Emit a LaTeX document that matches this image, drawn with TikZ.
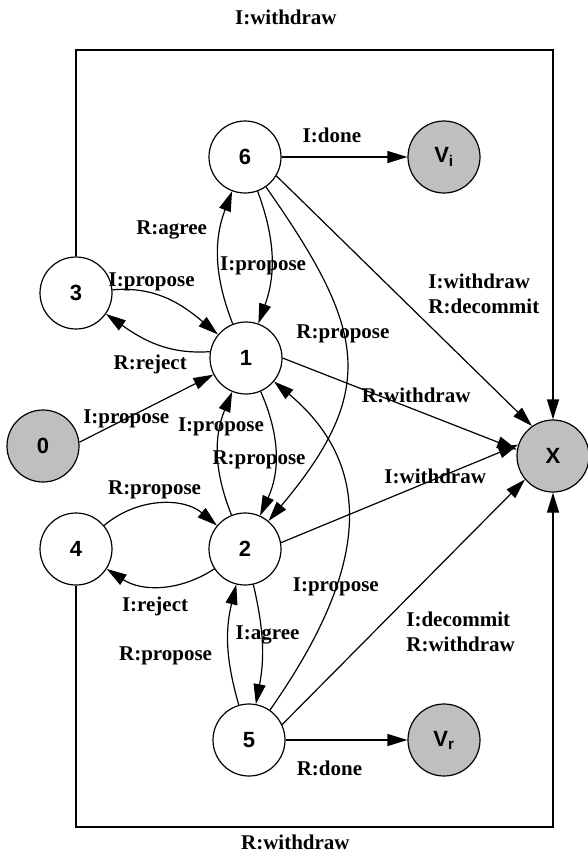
\documentclass[tikz,border=0pt]{standalone}
\usepackage{fontspec}
\setmainfont{Liberation Serif}
\setsansfont{Liberation Sans}
\usepackage{tikz}
\usetikzlibrary{automata, positioning, arrows.meta}
\tikzset{
->, % makes the edges directed
>={Triangle[length=20pt, width=12pt]}, % big filled arrow heads
every node/.style={font=\bfseries\fontsize{21}{25}\selectfont}, % the edge labels
every state/.style={line width=1.2pt, minimum size=72pt, inner sep=0pt, font=\sffamily\bfseries\fontsize{22}{26}\selectfont}, % the circles
sink/.style={fill=gray!50}, % the shaded end states
}

\begin{document}
\begin{tikzpicture}[x=1pt, y=1pt, line width=1.2pt, on grid]
    \useasboundingbox (0,0) rectangle (588,-855);
    \node[state] (q6) at (245,-157) {6};
    \node[state, sink, right=199pt of q6] (qVi) {V\textsubscript{i}};
    \node[state] (q3) at (76,-293) {3};
    \node[state] (q1) at (246,-358) {1};
    \node[state, sink] (q0) at (43,-446) {0};
    \node[state, sink] (qX) at (553,-456) {X};
    \node[state] (q4) at (76,-549) {4};
    \node[state, right=169pt of q4] (q2) {2};
    \node[state] (q5) at (249,-740) {5};
    \node[state, sink, right=195pt of q5] (qVr) {V\textsubscript{r}};
    \coordinate (cTop) at (553,-50);
    \coordinate (cBot) at (553,-827);

    \path
    (q6) edge node[pos=0.4, above=10pt] (lDone) {I:done} (qVi)
    (q6) edge[bend left=20] node[pos=0.57, xshift=-8pt] (lPropA) {I:propose} (q1)
    (q1) edge[bend left=21] node[pos=0.72, left=10pt] (lAgree) {R:agree} (q6)
    (q3) edge[out=5, in=140] node[pos=0.33, above=-2pt] (lPropB) {I:propose} (q1)
    (q1.170) edge[out=184, in=-35] node[pos=0.55, below=10pt] (lReject) {R:reject} (q3)
    (q0.6) edge node[pos=0.35] (lPropC) {I:propose} (q1.207)
    (q2) edge[bend left=22] node[pos=0.72] (lPropD) {I:propose} (q1)
    (q1) edge[bend left=24] node[pos=0.55, xshift=-16pt] (lPropE) {R:propose} (q2)
    (q6) edge[out=-55, in=50, looseness=1.32] node[pos=0.42] (lPropF) {R:propose} (q2)
    (q5) edge[out=55, in=-40, looseness=1.15] node[pos=0.35] (lPropG) {I:propose} (q1)
    (q6.-31) edge node[pos=0.47, right=28pt, align=left] (lWithA) {I:withdraw\\R:decommit} (qX.125)
    (q1.east) edge node[pos=0.57, above=4pt] (lWithB) {R:withdraw} (qX.170)
    (q2.10) edge node[pos=0.65, yshift=3pt] (lWithC) {I:withdraw} (qX.162)
    (q5.25) edge node[pos=0.38, right=28pt, align=left] (lDecom) {I:decommit\\R:withdraw} (qX.220)
    (q5) edge node[pos=0.36, below=17pt] (lDoneR) {R:done} (qVr)
    (q5) edge[bend left=15] node[pos=0.4, left=13pt] (lPropH) {R:propose} (q2)
    (q2) edge[bend left=12] node[pos=0.42, xshift=6pt] (lAgreeB) {I:agree} (q5)
    (q4) edge[bend left=40] node[pos=0.45, above=2pt] (lPropI) {R:propose} (q2)
    (q2) edge[bend left=33] node[pos=0.55, below=7pt] (lRejectB) {I:reject} (q4);

    \draw (q3.north) |- (cTop) node[pos=0.72, above=21pt] (lTop) {I:withdraw} -- (qX.north);
    \draw (q4.south) |- (cBot) node[pos=0.73, below=4pt] (lBot) {R:withdraw} -- (qX.south);
\end{tikzpicture}
\end{document}
